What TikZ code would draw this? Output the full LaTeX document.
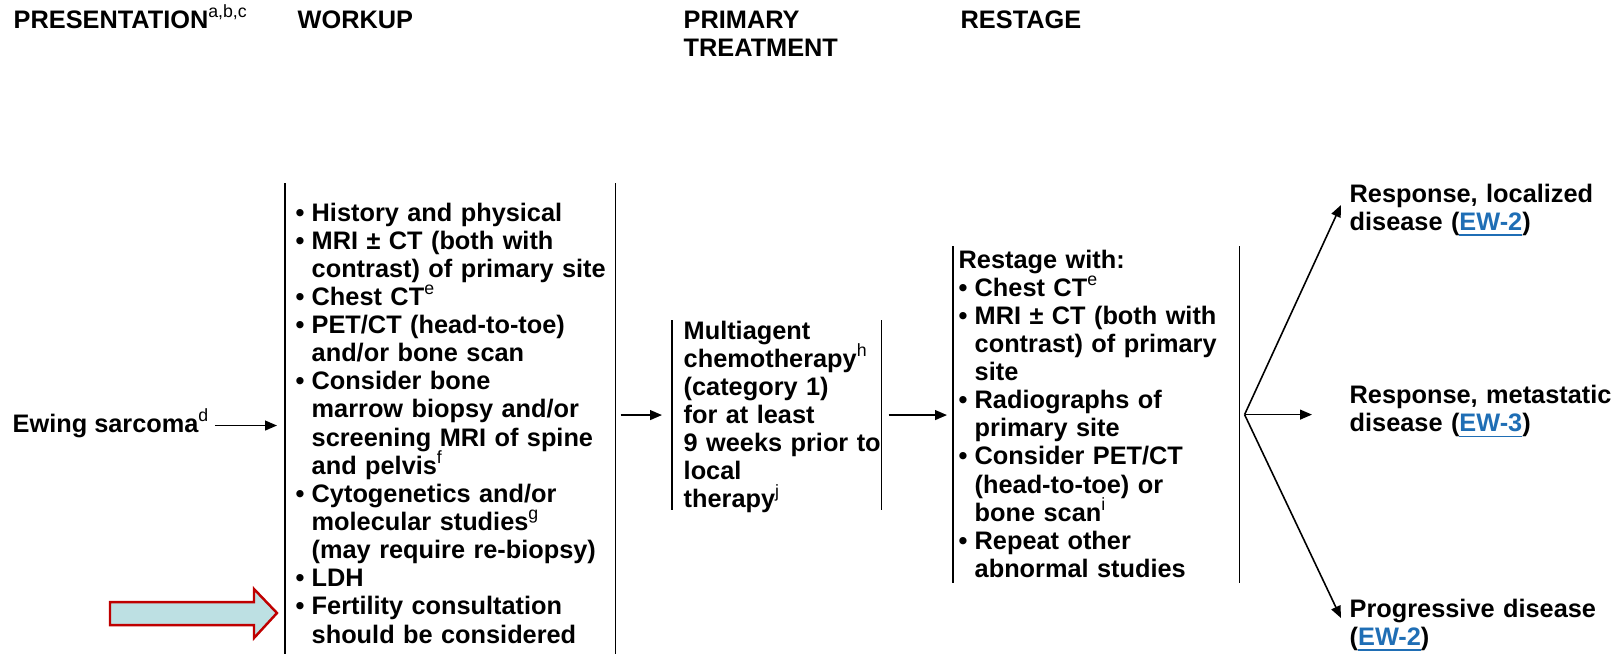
\documentclass[tikz,border=0pt]{standalone}
\usepackage{fontspec}
\setmainfont{Liberation Sans}
\usetikzlibrary{arrows.meta,calc}
\definecolor{LinkClr}{rgb}{0.12,0.43,0.71}
\definecolor{FlagClr}{rgb}{0.75,0,0}
\definecolor{FlagFillClr}{rgb}{0.74,0.88,0.89}
\newcommand\bul{\makebox[0.16cm][l]{•}}
\newcommand\gap{\hspace*{0.16cm}}
\newcommand\fn[1]{\smash{\textsuperscript{\mdseries #1}}}
\newcommand\link[1]{\textcolor{LinkClr}{\underline{#1}}}

\begin{document}
\begin{tikzpicture}[x=0.01cm,y=-0.01cm,
  every node/.style={font=\fontsize{7.2pt}{8pt}\selectfont\bfseries},
  hdr/.style={anchor=base west,inner sep=0pt,align=left,text width=3cm},
  col/.style={anchor=base west,inner ysep=0pt,align=left},
  outc/.style={anchor=base west,inner sep=0pt,align=left,text width=2.7cm},
  bar/.style={line width=0.45pt},
  conn/.style={line width=0.45pt,-{Triangle[length=3.4pt,width=2.8pt]}},
  flag/.style={draw=FlagClr,fill=FlagFillClr,line width=0.7pt}]

\useasboundingbox (0,0) rectangle (1623,653);

% column heads
\node[hdr] (hPres) at (13,28) {PRESENTATION\fn{a,b,c}};
\node[hdr] (hWork) at (297,28) {WORKUP};
\node[hdr] (hPrim) at (683,28) {PRIMARY\\TREATMENT};
\node[hdr] (hRest) at (960,28) {RESTAGE};

\node[col,inner sep=0pt] (ewing) at (12,432) {Ewing sarcoma\fn{d}};

\node[col,inner xsep=0.1cm,text width=3.09cm,text height=0.37cm,text depth=4.4cm] (workup) at (285,221)
  {\bul History and physical\\
   \bul MRI ± CT (both with\\
   \gap\mbox{contrast) of primary site}\\
   \bul Chest CT\fn{e}\\
   \bul PET/CT (head-to-toe)\\
   \gap and/or bone scan\\
   \bul Consider bone\\
   \gap marrow biopsy and/or\\
   \gap screening MRI of spine\\
   \gap and pelvis\fn{f}\\
   \bul Cytogenetics and/or\\
   \gap molecular studies\fn{g}\\
   \gap (may require re-biopsy)\\
   \bul LDH\\
   \bul Fertility consultation\\
   \gap should be considered};

\node[col,inner xsep=0.11cm,text width=1.86cm,text height=0.18cm,text depth=1.7cm] (prim) at (672,339)
  {Multiagent\\
   chemotherapy\fn{h}\\
   (category 1)\\
   for at least\\
   \mbox{9 weeks prior to}\\
   local\\
   therapy\fn{j}};

\node[col,inner xsep=0.05cm,text width=2.75cm,text height=0.21cm,text depth=3.14cm] (restage) at (953,268)
  {Restage with:\\
   \bul Chest CT\fn{e}\\
   \bul MRI ± CT (both with\\
   \gap contrast) of primary\\
   \gap site\\
   \bul Radiographs of\\
   \gap primary site\\
   \bul Consider PET/CT\\
   \gap (head-to-toe) or\\
   \gap bone scan\fn{i}\\
   \bul Repeat other\\
   \gap abnormal studies};

\foreach \n in {workup,prim,restage}
  \draw[bar] (\n.north west) -- (\n.south west) (\n.north east) -- (\n.south east);

\node[outc] (loc) at (1349,202) {Response, localized\\disease (\link{EW-2})};
\node[outc] (meta) at (1349,403) {Response, metastatic\\disease (\link{EW-3})};
\node[outc] (prog) at (1349,617) {Progressive disease\\(\link{EW-2})};

\draw[conn,shorten <=0.04cm,shorten >=0.08cm] (ewing.east) -- (ewing.east -| workup.west);
\draw[conn,shorten <=0.05cm,shorten >=0.1cm] (workup.east |- prim.west) -- (prim.west);
\draw[conn,shorten <=0.07cm,shorten >=0.06cm] (prim.east) -- (prim.east -| restage.west);

\coordinate (split) at ([xshift=0.05cm]restage.east);
\draw[conn] (split) -- ([xshift=-0.08cm,yshift=-0.03cm]loc.base west);
\draw[conn,shorten >=0.37cm] (split) -- (split -| meta.west);
\draw[conn] (split) -- ([xshift=-0.08cm,yshift=-0.01cm]prog.base west);

% fertility pointer
\coordinate (flagtip) at ([xshift=-0.08cm]workup.west |- 0,613);
\draw[flag] (flagtip) -- ++(-23,-24) -- ++(0,13) -- ++(-144,0) -- ++(0,23)
  -- ++(144,0) -- ++(0,13) -- cycle;

\end{tikzpicture}
\end{document}
